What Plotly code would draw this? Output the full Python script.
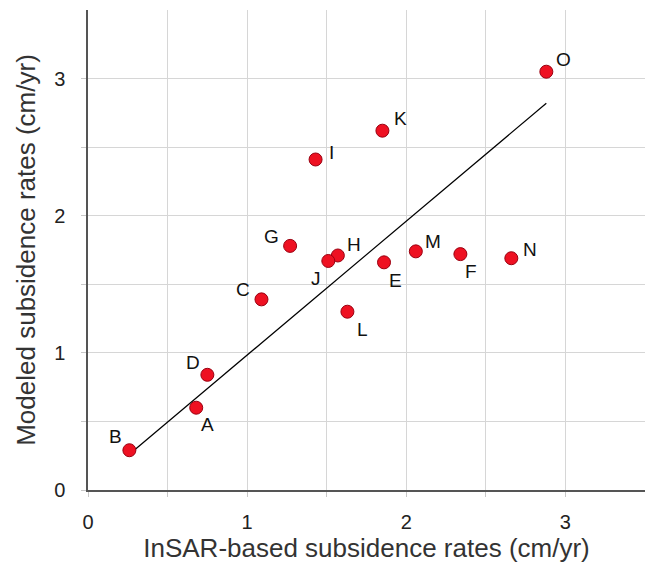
import plotly.graph_objects as go

labels = ["A", "B", "C", "D", "E", "F", "G", "H", "I", "J", "K", "L", "M", "N", "O"]
insar = [0.68, 0.26, 1.09, 0.75, 1.86, 2.34, 1.27, 1.57, 1.43, 1.51, 1.85, 1.63, 2.06, 2.66, 2.88]
modeled = [0.60, 0.29, 1.39, 0.84, 1.66, 1.72, 1.78, 1.71, 2.41, 1.67, 2.62, 1.30, 1.74, 1.69, 3.05]

# trend line endpoints
trend_x = [0.29, 2.88]
trend_y = [0.29, 2.82]

tick_vals = [0, 0.5, 1, 1.5, 2, 2.5, 3]
tick_text = ["0", "", "1", "", "2", "", "3"]

FONT = "Liberation Sans, Arial, sans-serif"

# label offsets in pixels (style)
label_shift = {
    "A": (11, -17), "B": (-14, 14), "C": (-18, 10), "D": (-14, 12),
    "E": (11, -18), "F": (11, -17), "G": (-19, 9), "H": (16, 11),
    "I": (16, 7), "J": (-12, -18), "K": (18, 12), "L": (15, -18),
    "M": (17, 10), "N": (19, 9), "O": (17, 12),
}

fig = go.Figure()
fig.add_trace(go.Scatter(x=trend_x, y=trend_y, mode="lines",
                         line=dict(color="black", width=1.2), showlegend=False, hoverinfo="skip"))
fig.add_trace(go.Scatter(x=insar, y=modeled, mode="markers",
                         marker=dict(size=13, color="#ee1122", line=dict(color="#9a0010", width=1)),
                         showlegend=False))

for lab, xv, yv in zip(labels, insar, modeled):
    dx, dy = label_shift[lab]
    fig.add_annotation(x=xv, y=yv, text=lab, showarrow=False, xshift=dx, yshift=dy,
                       font=dict(size=19, color="#111111", family=FONT))

axis_common = dict(
    range=[0, 3.5], tickvals=tick_vals, ticktext=tick_text,
    showgrid=True, gridcolor="#d6d6d6", gridwidth=1,
    showline=True, linecolor="#555555", linewidth=1.5,
    ticks="outside", ticklen=5, tickcolor="#c8c8c8", tickwidth=1,
    zeroline=False, automargin=True,
    tickfont=dict(size=20, color="#222222", family=FONT),
)

fig.update_xaxes(**axis_common, ticklabelstandoff=8,
                 title=dict(text="InSAR-based subsidence rates (cm/yr)", standoff=1,
                            font=dict(size=26, color="#333333", family=FONT)))
fig.update_yaxes(**axis_common, ticklabelstandoff=12,
                 title=dict(text="Modeled subsidence rates (cm/yr)", standoff=11,
                            font=dict(size=26, color="#333333", family=FONT)))

fig.update_layout(width=645, height=564, margin=dict(l=88, r=0, t=10, b=74),
                  plot_bgcolor="white", paper_bgcolor="white")

fig.write_html("out.html", config={"displayModeBar": False},
               post_script="document.body.style.margin='0';document.body.style.overflow='hidden';")
